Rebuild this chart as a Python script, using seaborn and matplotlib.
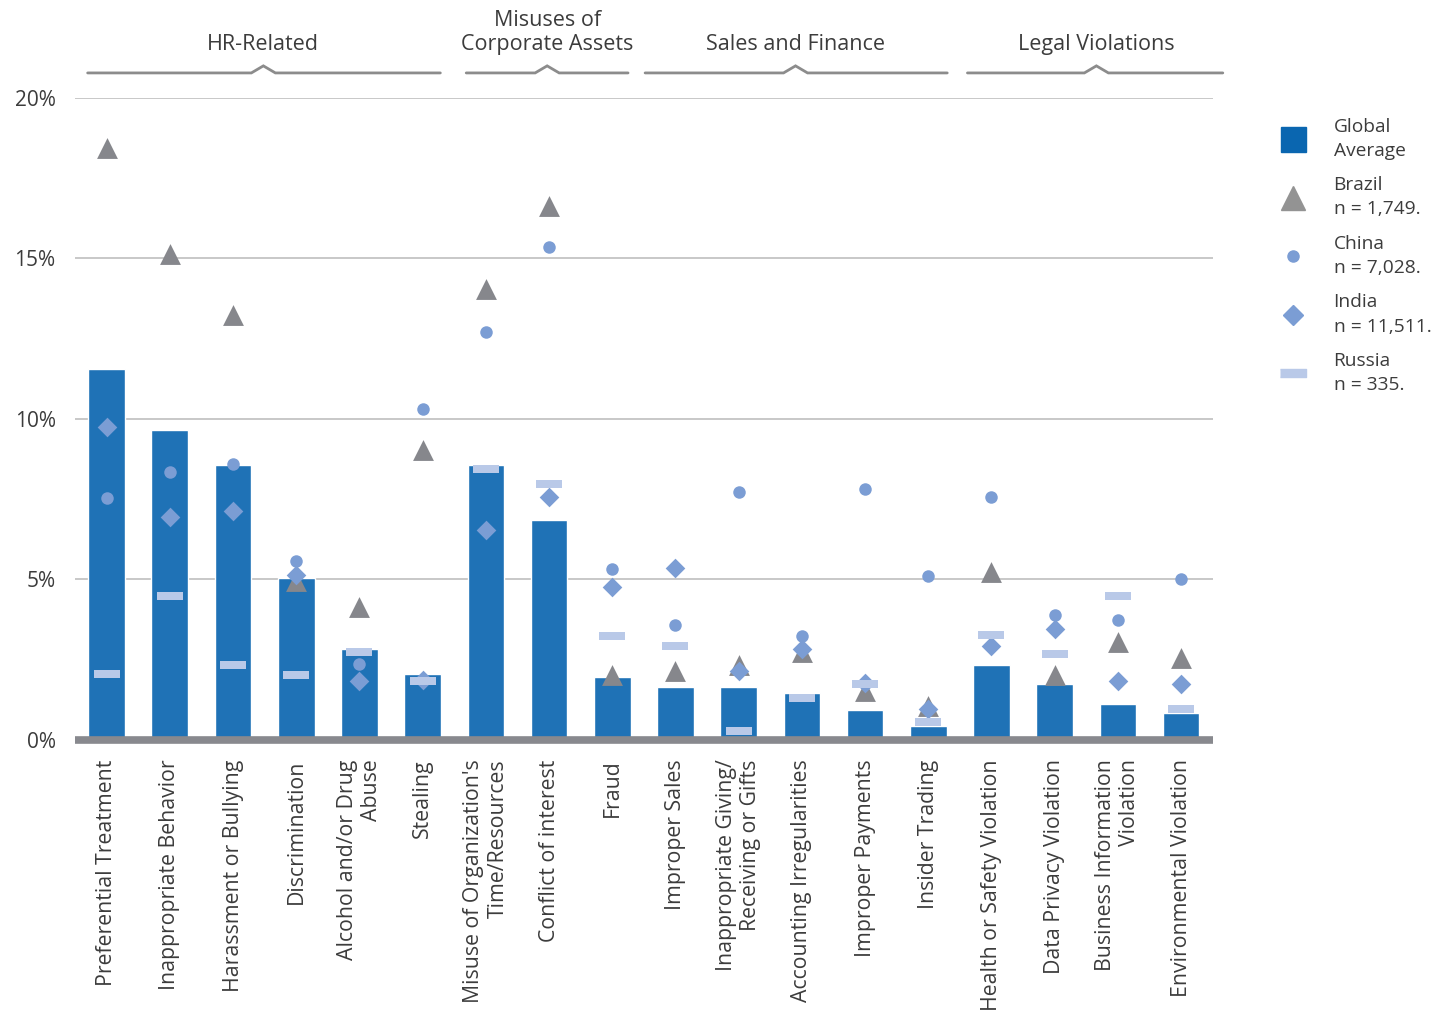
import matplotlib
matplotlib.use("Agg")
import matplotlib.pyplot as plt
from matplotlib.lines import Line2D
import seaborn as sns
import pandas as pd

categories = [
    "Preferential Treatment", "Inappropriate Behavior", "Harassment or Bullying",
    "Discrimination", "Alcohol and/or Drug\nAbuse", "Stealing",
    "Misuse of Organization's\nTime/Resources", "Conflict of interest", "Fraud",
    "Improper Sales", "Inappropriate Giving/\nReceiving or Gifts", "Accounting Irregularities",
    "Improper Payments", "Insider Trading", "Health or Safety Violation",
    "Data Privacy Violation", "Business Information\nViolation", "Environmental Violation",
]
global_avg = [11.56, 9.66, 8.57, 5.05, 2.83, 2.06, 8.57, 6.85, 1.96, 1.65, 1.65, 1.46, 0.93, 0.44, 2.34, 1.74, 1.12, 0.84]
brazil = [18.44, 15.14, 13.24, 4.95, 4.14, 9.03, 14.05, 16.64, 2.02, 2.15, 2.34, 2.74, 1.53, 1.06, 5.23, 2.02, 3.05, 2.55]
china = [7.54, 8.35, 8.60, 5.58, 2.37, 10.31, 12.71, 15.36, 5.33, 3.58, 7.73, 3.24, 7.82, 5.11, 7.57, 3.89, 3.74, 5.02]
india = [9.75, 6.95, 7.13, 5.14, 1.84, 1.87, 6.54, 7.57, 4.77, 5.36, 2.15, 2.83, 1.78, 0.97, 2.93, 3.46, 1.84, 1.74]
russia = [2.06, 4.49, 2.34, 2.02, 2.74, 1.84, 8.44, 7.98, 3.24, 2.93, 0.28, 1.31, 1.74, 0.56, 3.27, 2.68, 4.49, 0.97]
yticks = [0, 5, 10, 15, 20]
ytick_labels = ["0%", "5%", "10%", "15%", "20%"]
groups = ["HR-Related", "Misuses of\nCorporate Assets", "Sales and Finance", "Legal Violations"]
legend_labels = ["Global\nAverage", "Brazil\nn = 1,749.", "China\nn = 7,028.", "India\nn = 11,511.", "Russia\nn = 335."]

sns.set_style("white")
plt.rcParams["font.family"] = ["Open Sans", "DejaVu Sans"]
TXT = "#3c3c3c"

df = pd.DataFrame({"cat": categories, "glob": global_avg, "brazil": brazil,
                   "china": china, "india": india, "russia": russia})

fig = plt.figure(figsize=(14.37, 10.28), dpi=100)
ax = fig.add_axes([0.0522, 0.2802, 0.7917, 0.6245])

sns.barplot(data=df, x="cat", y="glob", order=categories, color="#1f72b6",
            saturation=1, width=0.58, ax=ax, zorder=2)

bar_marker = [(-1, -0.3), (1, -0.3), (1, 0.3), (-1, 0.3)]
sns.stripplot(data=df, x="cat", y="brazil", order=categories, jitter=False, marker="^",
              size=15, color="#86878c", linewidth=0, ax=ax, zorder=4)
sns.stripplot(data=df, x="cat", y="china", order=categories, jitter=False, marker="o",
              size=9, color="#7b9dd4", linewidth=0, ax=ax, zorder=4)
sns.stripplot(data=df, x="cat", y="india", order=categories, jitter=False, marker="D",
              size=10, color="#7b9dd4", linewidth=0, ax=ax, zorder=4)
sns.stripplot(data=df, x="cat", y="russia", order=categories, jitter=False, marker=bar_marker,
              size=19, color="#b9c9e8", linewidth=0, ax=ax, zorder=4)

ax.set_xlim(-0.5, 17.5)
ax.set_ylim(0, 20)
ax.set_yticks(yticks)
ax.set_yticklabels(ytick_labels, fontsize=15, color=TXT)
ax.yaxis.grid(True, color="#c4c4c4", linewidth=1.3, zorder=0)
ax.set_axisbelow(True)
ax.axhline(0, color="#88898e", linewidth=5.5, zorder=5, clip_on=False,
           solid_capstyle="butt")
for s in ax.spines.values():
    s.set_visible(False)
ax.tick_params(axis="both", length=0)
ax.tick_params(axis="y", pad=14)
ax.tick_params(axis="x", pad=14)
ax.set_xticks(range(len(categories)))
ax.set_xticklabels(categories, rotation=90, fontsize=15.3, color=TXT,
                   ha="center", va="top", multialignment="right",
                   linespacing=1.2)
ax.set_xlabel("")
ax.set_ylabel("")

# group brackets
spans = [(-0.30, 5.28, 2.48), (5.69, 8.25, 6.97), (8.52, 13.30, 10.90), (13.62, 17.66, 15.66)]
yb, hb, wb = 20.78, 0.22, 0.19
for (x0, x1, c), g in zip(spans, groups):
    ax.plot([x0, c - wb, c, c + wb, x1], [yb, yb, yb + hb, yb, yb],
            color="#8c8c8c", lw=2.0, clip_on=False, solid_joinstyle="miter")
    ax.text(c, 21.35, g, ha="center", va="bottom", fontsize=15.5, color=TXT,
            linespacing=1.15)

handles = [
    Line2D([], [], marker="s", color="#0a66b0", linestyle="none", markersize=18),
    Line2D([], [], marker="^", color="#939393", linestyle="none", markersize=17),
    Line2D([], [], marker="o", color="#7b9dd4", linestyle="none", markersize=8),
    Line2D([], [], marker="D", color="#7b9dd4", linestyle="none", markersize=10),
    Line2D([], [], marker=bar_marker, color="#b9c9e8", linestyle="none", markersize=19),
]
leg = fig.legend(handles, legend_labels, loc="upper left", bbox_to_anchor=(0.884, 0.895),
                 frameon=False, fontsize=13.8, labelspacing=0.85, handlelength=1.4,
                 handletextpad=1.4, borderpad=0)
for t in leg.get_texts():
    t.set_color(TXT)
    t.set_linespacing(1.45)

fig.savefig("out.png", dpi=100)
